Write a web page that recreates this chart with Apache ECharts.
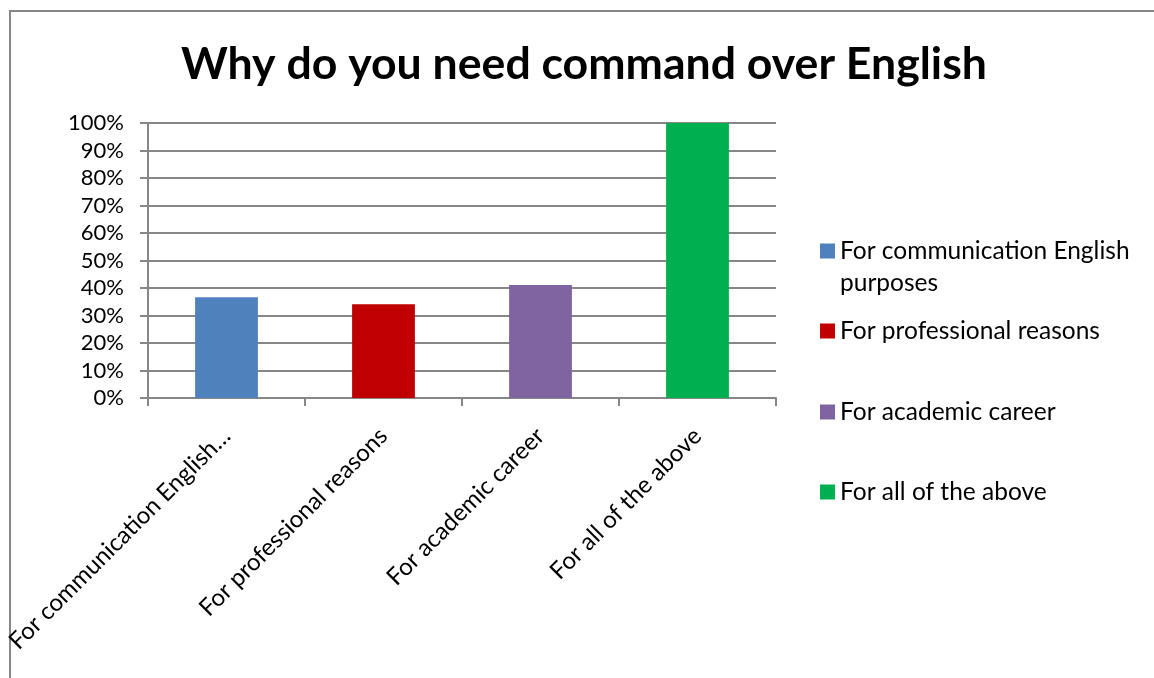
<!DOCTYPE html>
<html>
<head>
<meta charset="utf-8">
<script src="https://cdn.jsdelivr.net/npm/echarts@6/dist/echarts.min.js"></script>
<style>
  html, body { margin: 0; padding: 0; background: #fff; overflow: hidden; }
  #frame { position: absolute; left: 9px; top: 10px; width: 1200px; height: 700px;
           border-left: 2px solid #878787; border-top: 2px solid #878787; }
  #chart { position: absolute; left: 0; top: 0; width: 1154px; height: 678px; }
</style>
</head>
<body>
<div id="frame"></div>
<div id="chart"></div>
<script>
const title = 'Why do you need command over English';
const categories = ['For communication English…', 'For professional reasons', 'For academic career', 'For all of the above'];
const seriesNames = ['For communication English purposes', 'For professional reasons', 'For academic career', 'For all of the above'];
const values = [36.6, 34.1, 41.1, 100];
const colors = ['#4F81BD', '#C00000', '#8064A2', '#00B050'];
const yTicks = [0, 10, 20, 30, 40, 50, 60, 70, 80, 90, 100];

const font = 'Lato, "Open Sans", sans-serif';
const legendFontSize = 24.5;
const legendCenters = [251, 331, 412, 492];

const series = seriesNames.map((name, i) => ({
  name,
  type: 'bar',
  stack: 'all',
  barWidth: '40%',
  itemStyle: { color: colors[i] },
  data: categories.map((c, j) => (j === i ? values[i] : '-'))
}));

// one legend per item so the uneven spacing of the original can be kept;
// the first name wraps, its second line is drawn as a plain text below
const legends = seriesNames.map((name, i) => ({
  orient: 'vertical',
  left: 820,
  top: legendCenters[i] - 16,
  padding: 0,
  itemWidth: 15,
  itemHeight: 15,
  icon: 'rect',
  data: [name],
  selectedMode: false,
  formatter: n => (n === seriesNames[0] ? 'For communication English' : n),
  textStyle: { fontFamily: font, fontSize: legendFontSize, color: '#000', lineHeight: 32 }
}));

const chart = echarts.init(document.getElementById('chart'), null, { renderer: 'canvas' });
chart.setOption({
  animation: false,
  color: colors,
  title: {
    text: title,
    left: 176,
    top: 35,
    textStyle: { fontFamily: font, fontSize: 44.6, fontWeight: 'bold', color: '#000', lineHeight: 50 }
  },
  legend: legends,
  graphic: [{
    type: 'text',
    left: 840,
    top: legendCenters[0] + 32 - 16,
    style: { text: 'purposes', font: legendFontSize + 'px ' + font, fill: '#000', lineHeight: 32 }
  }],
  grid: { left: 148, right: 378, top: 123, bottom: 280, containLabel: false },
  xAxis: {
    type: 'category',
    data: categories,
    axisLine: { lineStyle: { color: '#878787', width: 2 } },
    axisTick: { show: true, length: 8, lineStyle: { color: '#878787', width: 2 } },
    axisLabel: {
      rotate: 45, margin: 34, interval: 0,
      fontFamily: font, fontSize: 24, color: '#000'
    }
  },
  yAxis: {
    type: 'value',
    min: yTicks[0],
    max: yTicks[yTicks.length - 1],
    interval: 10,
    axisLine: { show: true, lineStyle: { color: '#878787', width: 2 } },
    axisTick: { show: true, length: 8, lineStyle: { color: '#878787', width: 2 } },
    splitLine: { lineStyle: { color: '#878787', width: 2 } },
    axisLabel: {
      margin: 24, fontFamily: font, fontSize: 22, color: '#000',
      formatter: v => v + '%'
    }
  },
  series
});
</script>
</body>
</html>
